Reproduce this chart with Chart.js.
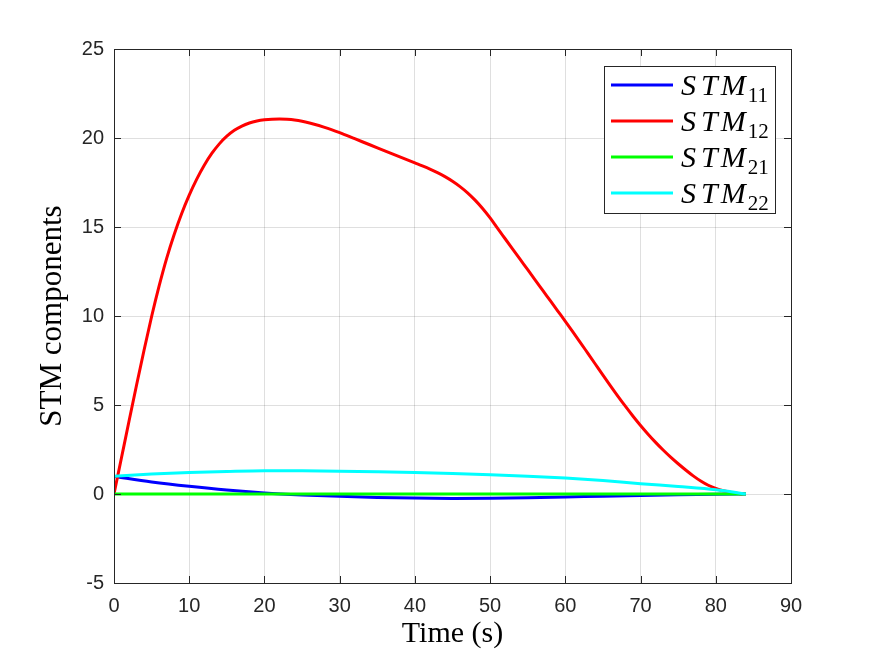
<!DOCTYPE html>
<html>
<head>
<meta charset="utf-8">
<script src="https://cdn.jsdelivr.net/npm/chart.js@4.4.0/dist/chart.umd.min.js"></script>
<style>
  html, body { margin: 0; padding: 0; background: #fff; }
  canvas { display: block; }
</style>
</head>
<body>
<canvas id="c" width="875" height="656"></canvas>
<script>
// ---- Data ----
const timeRed = [0, 1, 2, 3, 4, 5, 6, 7, 8, 9, 10, 11, 12, 13, 14, 15, 16, 17, 18, 19, 20, 21, 22, 23, 24, 25, 26, 28, 30, 32, 34, 36, 38, 40, 41, 42, 43, 44, 45, 46, 47, 48, 49, 50, 51, 52, 53, 54, 55, 56, 57, 58, 59, 60, 61, 62, 63, 64, 65, 66, 67, 68, 69, 70, 71, 72, 73, 74, 75, 76, 77, 78, 79, 80, 81, 82, 83, 84];
const stm12   = [0, 2.05, 4.1, 6.12, 8.09, 9.97, 11.69, 13.24, 14.58, 15.76, 16.79, 17.69, 18.47, 19.13, 19.67, 20.1, 20.43, 20.67, 20.84, 20.95, 21.02, 21.06, 21.07, 21.05, 21.01, 20.94, 20.84, 20.6, 20.3, 19.96, 19.62, 19.28, 18.94, 18.6, 18.43, 18.25, 18.05, 17.83, 17.57, 17.27, 16.92, 16.51, 16.04, 15.51, 14.92, 14.34, 13.76, 13.18, 12.6, 12.02, 11.44, 10.86, 10.28, 9.7, 9.11, 8.51, 7.9, 7.29, 6.68, 6.08, 5.49, 4.92, 4.37, 3.85, 3.36, 2.9, 2.47, 2.07, 1.7, 1.35, 1.02, 0.73, 0.49, 0.31, 0.18, 0.09, 0.03, 0];

const timeLow = [0, 5, 10, 15, 20, 25, 30, 35, 40, 45, 50, 55, 60, 65, 70, 75, 80, 84];
const stm11   = [0.99, 0.68, 0.43, 0.22, 0.06, -0.05, -0.13, -0.19, -0.23, -0.25, -0.24, -0.21, -0.17, -0.12, -0.08, -0.04, -0.01, 0];
const stm21   = [0, 0, 0, 0, 0, 0, 0, 0, 0, 0, 0, 0, 0, 0, 0, 0, 0, 0];
const stm22   = [0.99, 1.12, 1.21, 1.27, 1.31, 1.3, 1.28, 1.25, 1.21, 1.15, 1.08, 1.0, 0.9, 0.76, 0.58, 0.42, 0.24, 0];

const xTicks = [0, 10, 20, 30, 40, 50, 60, 70, 80, 90];
const yTicks = [-5, 0, 5, 10, 15, 20, 25];
const seriesSubs = ['11', '12', '21', '22'];
const seriesColors = ['#0000ff', '#ff0000', '#00ff00', '#00ffff'];

const axisColor = '#262626';
const gridColor = 'rgba(38,38,38,0.15)';

function pts(t, v) { return t.map((x, i) => ({ x: x, y: v[i] })); }

const seriesData = [pts(timeLow, stm11), pts(timeRed, stm12), pts(timeLow, stm21), pts(timeLow, stm22)];

const datasets = seriesData.map((d, i) => ({
  label: 'STM' + seriesSubs[i],
  sub: seriesSubs[i],
  data: d,
  borderColor: seriesColors[i],
  backgroundColor: seriesColors[i],
  borderWidth: 3,
  borderJoinStyle: 'round',
  pointRadius: 0,
  fill: false,
  cubicInterpolationMode: 'monotone',
  order: 4 - i
}));

// inward ticks + full box
const boxPlugin = {
  id: 'boxTicks',
  afterDatasetsDraw(chart) {
    const { ctx, chartArea: a, scales } = chart;
    const L = 7;
    ctx.save();
    ctx.strokeStyle = axisColor;
    ctx.lineWidth = 1;
    ctx.beginPath();
    xTicks.forEach(v => {
      const x = Math.round(scales.x.getPixelForValue(v)) + 0.5;
      ctx.moveTo(x, a.bottom); ctx.lineTo(x, a.bottom - L);
      ctx.moveTo(x, a.top); ctx.lineTo(x, a.top + L);
    });
    yTicks.forEach(v => {
      const y = Math.round(scales.y.getPixelForValue(v)) + 0.5;
      ctx.moveTo(a.left, y); ctx.lineTo(a.left + L, y);
      ctx.moveTo(a.right, y); ctx.lineTo(a.right - L, y);
    });
    ctx.stroke();
    ctx.strokeRect(Math.round(a.left) + 0.5, Math.round(a.top) + 0.5, Math.round(a.right - a.left), Math.round(a.bottom - a.top));
    ctx.restore();
  }
};

// MATLAB-style legend with LaTeX-like subscripts
const legendPlugin = {
  id: 'mathLegend',
  afterDraw(chart) {
    const { ctx } = chart;
    const bx = 604.5, by = 66.5, bw = 171, bh = 147;
    ctx.save();
    ctx.fillStyle = '#fff';
    ctx.fillRect(bx, by, bw, bh);
    ctx.strokeStyle = axisColor;
    ctx.lineWidth = 1;
    ctx.strokeRect(bx, by, bw, bh);
    chart.data.datasets.forEach((ds, i) => {
      const cy = 85 + i * 36;
      ctx.strokeStyle = ds.borderColor;
      ctx.lineWidth = 3;
      ctx.beginPath();
      ctx.moveTo(611, cy); ctx.lineTo(673, cy);
      ctx.stroke();
      ctx.fillStyle = '#000';
      ctx.textBaseline = 'alphabetic';
      ctx.textAlign = 'left';
      ctx.font = 'italic 30px "Liberation Serif"';
      let x = 681;
      const letters = ['S', 'T', 'M'];
      const gaps = [5, 3, 2];
      letters.forEach((ch, k) => {
        ctx.fillText(ch, x, cy + 10);
        x += ctx.measureText(ch).width + gaps[k];
      });
      ctx.font = '21px "Liberation Serif"';
      ctx.fillText(ds.sub, x, cy + 17);
    });
    ctx.restore();
  }
};

new Chart(document.getElementById('c'), {
  type: 'line',
  data: { datasets: datasets },
  options: {
    responsive: false,
    animation: false,
    events: [],
    layout: { padding: { left: 0, top: 49, right: 84, bottom: 0 } },
    plugins: { legend: { display: false }, tooltip: { enabled: false } },
    scales: {
      x: {
        type: 'linear',
        min: 0, max: 90,
        afterFit(s) { s.height = 73; },
        afterBuildTicks(s) { s.ticks = xTicks.map(v => ({ value: v })); },
        ticks: { color: axisColor, font: { family: 'Liberation Sans', size: 20 }, padding: 11, maxRotation: 0, autoSkip: false },
        grid: { color: gridColor, drawTicks: false },
        border: { display: false },
        title: { display: true, text: 'Time (s)', color: '#000', font: { family: 'Liberation Serif', size: 30 }, padding: { top: 0, bottom: 4 } }
      },
      y: {
        type: 'linear',
        min: -5, max: 25,
        afterFit(s) { s.width = 114; },
        afterBuildTicks(s) { s.ticks = yTicks.map(v => ({ value: v })); },
        ticks: { color: axisColor, font: { family: 'Liberation Sans', size: 20 }, padding: 10, autoSkip: false },
        grid: { color: gridColor, drawTicks: false },
        border: { display: false },
        title: { display: true, text: 'STM components', color: '#000', font: { family: 'Liberation Serif', size: 31 }, padding: { top: 34, bottom: 0 } }
      }
    }
  },
  plugins: [boxPlugin, legendPlugin]
});
</script>
</body>
</html>
